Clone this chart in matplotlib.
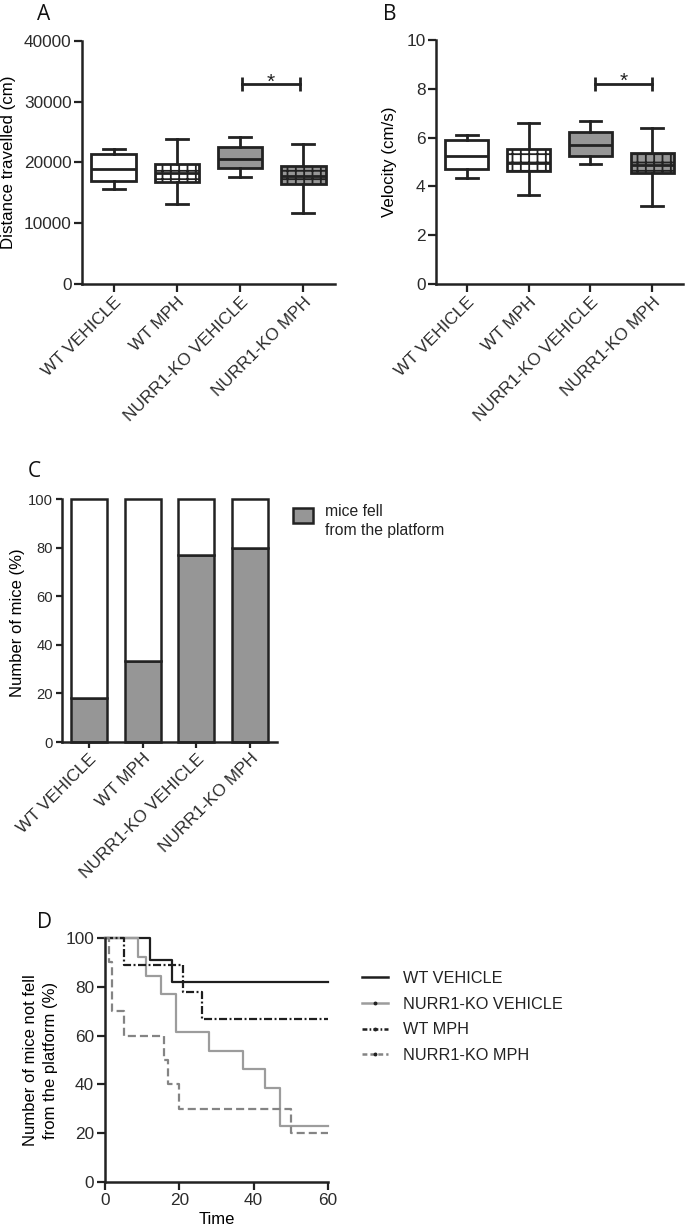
import matplotlib
matplotlib.use("Agg")
import matplotlib.pyplot as plt
from matplotlib import font_manager
from matplotlib.lines import Line2D
from matplotlib.patches import Rectangle

groups = ["WT VEHICLE", "WT MPH", "NURR1-KO VEHICLE", "NURR1-KO MPH"]

# A: distance travelled (cm): whisker low, q1, median, q3, whisker high
dist_lo = [15600, 13200, 17600, 11600]
dist_q1 = [16900, 16700, 19000, 16400]
dist_med = [18900, 18200, 20500, 17700]
dist_q3 = [21300, 19800, 22500, 19400]
dist_hi = [22200, 23900, 24100, 23000]

# B: velocity (cm/s)
vel_lo = [4.33, 3.65, 4.90, 3.21]
vel_q1 = [4.70, 4.63, 5.26, 4.55]
vel_med = [5.25, 4.97, 5.68, 4.89]
vel_q3 = [5.90, 5.52, 6.22, 5.36]
vel_hi = [6.12, 6.60, 6.68, 6.39]

# C: mice that fell from the platform (%)
fell_pct = [18.2, 33.3, 76.9, 80.0]

# D: survival curves (time, % not fallen)
wt_veh_t = [0, 12, 18, 60]
wt_veh_s = [100, 90.9, 81.8, 81.8]
ko_veh_t = [0, 9, 11, 15, 19, 28, 37, 43, 47, 60]
ko_veh_s = [100, 92.3, 84.6, 76.9, 61.5, 53.8, 46.2, 38.5, 23.1, 23.1]
wt_mph_t = [0, 5, 21, 26, 60]
wt_mph_s = [100, 88.9, 77.8, 66.7, 66.7]
ko_mph_t = [0, 1, 2, 5, 16, 17, 20, 50, 60]
ko_mph_s = [100, 90, 70, 60, 50, 40, 30, 20, 20]

DARK = "#222222"
GRAY = "#969696"
W, H = 685, 1228

plt.rcParams["font.family"] = ["Liberation Sans", "DejaVu Sans"]
plt.rcParams["text.color"] = DARK
plt.rcParams["lines.scale_dashes"] = False
plt.rcParams["hatch.linewidth"] = 1.3

names = {f.name for f in font_manager.fontManager.ttflist}
NARROW = "Liberation Sans Narrow" if "Liberation Sans Narrow" in names else "Liberation Sans"
narrow_scale = 1.18 if NARROW == "Liberation Sans Narrow" else 1.0

fig = plt.figure(figsize=(W / 100, H / 100), dpi=100)


def px_axes(l, t, r, b):
    return fig.add_axes([l / W, 1 - b / H, (r - l) / W, (b - t) / H])


def style_axes(ax, ticklen=5.5, labelsize=12.4):
    for s in ("top", "right"):
        ax.spines[s].set_visible(False)
    for s in ("left", "bottom"):
        ax.spines[s].set_linewidth(1.8)
        ax.spines[s].set_color(DARK)
    ax.tick_params(direction="out", length=ticklen, width=1.6, color=DARK,
                   labelcolor="#2b2b2b", labelsize=labelsize, pad=2)


def box_panel(ax, lo, q1, med, q3, hi):
    stats = [dict(whislo=a, q1=b, med=c, q3=d, whishi=e, fliers=[])
             for a, b, c, d, e in zip(lo, q1, med, q3, hi)]
    line = dict(color=DARK, linewidth=2)
    bp = ax.bxp(stats, positions=range(len(groups)), widths=0.7, patch_artist=True,
                showfliers=False, boxprops=dict(edgecolor=DARK, linewidth=2),
                medianprops=line, whiskerprops=line, capprops=line)
    for patch, fc, hatch in zip(bp["boxes"], ["white", "white", GRAY, GRAY],
                                [None, "++", None, "++"]):
        patch.set_facecolor(fc)
        patch.set_hatch(hatch)
    ax.set_xlim(-0.5, 3.5)
    ax.set_xticks(range(len(groups)))
    ax.set_xticklabels(groups, rotation=45, ha="right", va="top", rotation_mode="anchor")


def sig_bar(ax, x1, x2, y, cap, star_y):
    ax.plot([x1, x2], [y, y], color=DARK, lw=2)
    ax.vlines([x1, x2], y - cap, y + cap, color=DARK, lw=2)
    ax.text((x1 + x2) / 2, star_y, "*", ha="center", va="baseline", fontsize=15)


# ---- A ----
ax_a = px_axes(82, 40.7, 335, 284)
style_axes(ax_a)
box_panel(ax_a, dist_lo, dist_q1, dist_med, dist_q3, dist_hi)
ax_a.set_ylim(0, 40000)
ax_a.set_yticks([0, 10000, 20000, 30000, 40000])
sig_bar(ax_a, 2.03, 2.95, 32900, 1150, 32300)
ax_a.set_ylabel("Distance travelled (cm)", fontsize=12.2)
ax_a.yaxis.set_label_coords(-0.262, 0.5)

# ---- B ----
ax_b = px_axes(436, 40, 683, 284)
style_axes(ax_b)
box_panel(ax_b, vel_lo, vel_q1, vel_med, vel_q3, vel_hi)
ax_b.set_ylim(0, 10)
ax_b.set_yticks([0, 2, 4, 6, 8, 10])
sig_bar(ax_b, 2.08, 3.0, 8.2, 0.29, 8.07)
ax_b.set_ylabel("Velocity (cm/s)", fontsize=12.2)
ax_b.yaxis.set_label_coords(-0.158, 0.5)

# ---- C ----
ax_c = px_axes(62, 499, 277, 742)
style_axes(ax_c, ticklen=4.5, labelsize=12.4)
x = range(len(groups))
ax_c.bar(x, fell_pct, width=0.67, color=GRAY, edgecolor=DARK, linewidth=1.8, clip_on=False)
ax_c.bar(x, [100 - v for v in fell_pct], bottom=fell_pct, width=0.67, color="white",
         edgecolor=DARK, linewidth=1.8, clip_on=False)
ax_c.set_xlim(-0.5, 3.5)
ax_c.set_ylim(0, 100)
ax_c.set_yticks(range(0, 101, 20))
for t in ax_c.get_yticklabels():
    t.set_fontfamily(NARROW)
    t.set_fontsize(10.6 * narrow_scale)
ax_c.set_xticks(list(x))
ax_c.set_xticklabels(groups, rotation=45, ha="right", va="top", rotation_mode="anchor")
ax_c.set_ylabel("Number of mice (%)", fontsize=12)
ax_c.yaxis.set_label_coords(-0.172, 0.49)

fig.add_artist(Rectangle((293 / W, 1 - 523 / H), 20 / W, 15 / H, transform=fig.transFigure,
                         facecolor=GRAY, edgecolor=DARK, linewidth=1.8))
fig.text(325 / W, 1 - 504 / H, "mice fell\nfrom the platform", ha="left", va="top",
         fontsize=11.3 * narrow_scale, family=NARROW, linespacing=1.3 / narrow_scale ** 0.5,
         color=DARK)

# ---- D ----
ax_d = px_axes(105, 938, 328, 1182)
style_axes(ax_d, ticklen=6, labelsize=12.4)
ax_d.step(wt_veh_t, wt_veh_s, where="post", color="#1e1e1e", lw=1.6, clip_on=False)
ax_d.step(ko_veh_t, ko_veh_s, where="post", color="#9c9c9c", lw=1.6, clip_on=False)
ax_d.step(wt_mph_t, wt_mph_s, where="post", color="#1e1e1e", lw=1.6,
          ls=(0, (5.8, 1.8, 1.4, 1.8)), clip_on=False)
ax_d.step(ko_mph_t, ko_mph_s, where="post", color="#848484", lw=1.6,
          ls=(0, (5.8, 2.9)), clip_on=False)
ax_d.set_xlim(0, 60)
ax_d.set_ylim(0, 100)
ax_d.set_xticks([0, 20, 40, 60])
ax_d.set_yticks(range(0, 101, 20))
ax_d.set_xlabel("Time", fontsize=12)
ax_d.xaxis.set_label_coords(0.5, -0.123)
ax_d.set_ylabel("Number of mice not fell\nfrom the platform (%)", fontsize=12, linespacing=1.45)
ax_d.yaxis.set_label_coords(-0.211, 0.5)

handles = [
    Line2D([], [], color="#1e1e1e", lw=1.8),
    Line2D([], [], color="#9c9c9c", lw=1.8, marker="o", ms=1.8, mfc=DARK, mec=DARK),
    Line2D([], [], color="#1e1e1e", lw=1.8, ls=(0, (3.5, 1.6, 1.2, 1.6)),
           marker="o", ms=1.8, mfc=DARK, mec=DARK),
    Line2D([], [], color="#848484", lw=1.8, ls=(0, (3.5, 2.2)),
           marker="o", ms=1.8, mfc=DARK, mec=DARK),
]
ax_d.legend(handles, ["WT VEHICLE", "NURR1-KO VEHICLE", "WT MPH", "NURR1-KO MPH"],
            loc="upper left", bbox_to_anchor=(362 / W, 1 - 971 / H),
            bbox_transform=fig.transFigure, frameon=False, fontsize=11.7,
            handlelength=1.6, handletextpad=0.9, labelspacing=0.66,
            borderpad=0, borderaxespad=0, numpoints=1)

# panel letters
for letter, lx, ly in [("A", 37, 20), ("B", 383, 20), ("C", 28, 477), ("D", 37, 928)]:
    fig.text(lx / W, 1 - ly / H, letter, family=["Open Sans", "DejaVu Sans"],
             fontsize=15, ha="left", va="baseline", color="#111111")

fig.savefig("out.png", dpi=100)
